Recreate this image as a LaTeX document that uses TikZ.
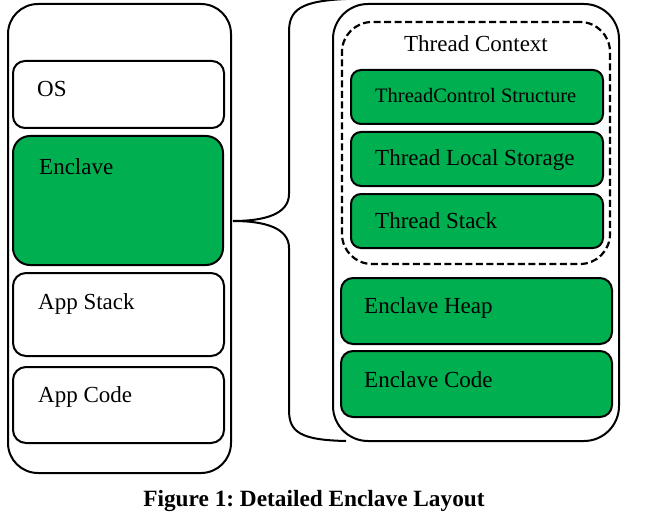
\documentclass[tikz,border=0pt]{standalone}
\usepackage{fontspec}
\setmainfont{Liberation Serif}
\definecolor{encgreen}{RGB}{0,176,80}
\begin{document}
\frenchspacing
\begin{tikzpicture}[x=1pt,y=-1pt,
  box/.style={draw=black, line width=2pt, rectangle, inner sep=0pt, outer sep=0pt},
  gbox/.style={box, fill=encgreen},
  lbl/.style={anchor=base west, inner sep=0pt, font=\fontsize{23}{27}\selectfont},
  slbl/.style={anchor=base west, inner sep=0pt, font=\fontsize{20.5}{24}\selectfont}]
\useasboundingbox (0,0) rectangle (655,513);
% left column
\node[box, rounded corners=30pt, minimum width=223pt, minimum height=469pt] (lout) at (119.5,238.5) {};
\node[box, rounded corners=12pt, minimum width=211pt, minimum height=67pt] (os) at (118.5,94.5) {};
\node[gbox, rounded corners=17pt, minimum width=210pt, minimum height=129pt] (enc) at (118,200.5) {};
\node[box, rounded corners=13pt, minimum width=211pt, minimum height=83pt] (astack) at (118.5,314.5) {};
\node[box, rounded corners=13pt, minimum width=211pt, minimum height=76pt] (acode) at (118.5,405) {};
\node[lbl] (tos) at (37,97) {OS};
\node[lbl] (tenc) at (39,175) {Enclave};
\node[lbl] (tast) at (38,309) {App Stack};
\node[lbl] (tacd) at (38,402) {App Code};
% right column
\node[box, rounded corners=35pt, minimum width=286pt, minimum height=437pt] (rout) at (476,222.5) {};
\node[box, line width=2.2pt, dash pattern=on 7pt off 3.5pt, rounded corners=30pt, minimum width=268pt, minimum height=242pt] (tctx) at (476,143) {};
\node[anchor=base, inner sep=0pt, font=\fontsize{23}{27}\selectfont] (ttctx) at (476,52) {Thread Context};
\node[gbox, rounded corners=10pt, minimum width=252pt, minimum height=54pt] (tcs) at (477,97) {};
\node[gbox, rounded corners=10pt, minimum width=252pt, minimum height=54pt] (tls) at (477,159) {};
\node[gbox, rounded corners=10pt, minimum width=252pt, minimum height=54pt] (tst) at (477,221) {};
\node[gbox, rounded corners=12pt, minimum width=271pt, minimum height=66pt] (heap) at (476.5,311) {};
\node[gbox, rounded corners=12pt, minimum width=271pt, minimum height=66pt] (code) at (476.5,384) {};
\node[slbl] (ttcs) at (375,103) {ThreadControl Structure};
\node[lbl] (ttls) at (375,166) {Thread Local Storage};
\node[lbl] (ttst) at (375,228) {Thread Stack};
\node[lbl] (theap) at (364,313) {Enclave Heap};
\node[lbl] (tcode) at (364,387) {Enclave Code};
% brace
\coordinate (btop) at (346,-1);
\coordinate (btip) at (233,221);
\coordinate (bbot) at (346,441);
\draw[line width=2pt] (btop) .. controls (300,1) and (289,10) .. (289,32)
  -- (289,194) .. controls (289,214) and (265,221) .. (btip)
  .. controls (265,221) and (289,228) .. (289,248)
  -- (289,410) .. controls (289,432) and (300,440) .. (bbot);
% caption
\node[anchor=base, inner sep=0pt, font=\fontsize{23.3}{27}\selectfont\bfseries] (cap) at (314,506) {Figure 1: Detailed Enclave Layout};
\end{tikzpicture}
\end{document}
